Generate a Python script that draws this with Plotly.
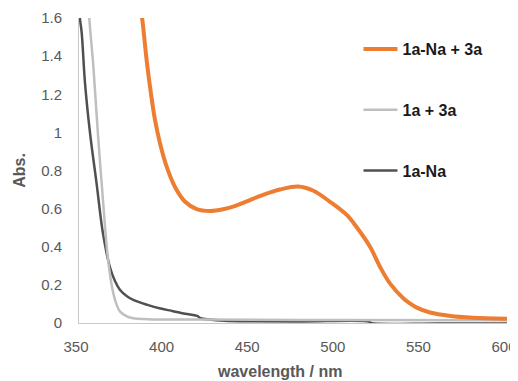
import plotly.graph_objects as go

# 1a-Na + 3a (orange)
wl_na3a = [384, 387, 389.5, 392, 394.4, 397.3, 401.2, 406, 412, 418.7, 426.5, 434.3, 441, 448, 457.6, 467.4, 478, 486.9, 496.6, 506.4, 512, 520, 525.8, 531.6, 539.4, 543.3, 547, 555, 567, 580, 600]
abs_na3a = [1.78, 1.59, 1.38, 1.205, 1.065, 0.943, 0.82, 0.715, 0.636, 0.598, 0.588, 0.597, 0.613, 0.638, 0.672, 0.70, 0.716, 0.694, 0.636, 0.567, 0.505, 0.40, 0.295, 0.208, 0.13, 0.103, 0.082, 0.055, 0.037, 0.028, 0.022]

# 1a + 3a (light gray)
wl_1a3a = [354, 356, 358.4, 361, 364, 367, 370, 372, 374, 378, 381.6, 390, 420, 500, 600]
abs_1a3a = [1.9, 1.6, 1.345, 1.0, 0.645, 0.33, 0.157, 0.095, 0.06, 0.035, 0.025, 0.02, 0.018, 0.016, 0.015]

# 1a-Na (dark gray)
wl_na = [349, 350.5, 351.6, 353.5, 356.4, 360.3, 364, 368, 371, 374, 378, 382, 390, 397, 405, 412, 419, 421, 426, 435, 450, 480, 519.5, 520.5, 560, 600]
abs_na = [1.75, 1.6, 1.52, 1.26, 1.0, 0.73, 0.47, 0.295, 0.22, 0.173, 0.14, 0.12, 0.095, 0.077, 0.062, 0.048, 0.037, 0.025, 0.018, 0.012, 0.009, 0.008, 0.007, 0.0, -0.002, -0.002]

y_ticks = [0, 0.2, 0.4, 0.6, 0.8, 1, 1.2, 1.4, 1.6]
y_tick_labels = ["0", "0.2", "0.4", "0.6", "0.8", "1", "1.2", "1.4", "1.6"]
x_ticks = [350, 400, 450, 500, 550, 600]
x_tick_labels = ["350", "400", "450", "500", "550", "600"]
x_title = "wavelength / nm"
y_title = "Abs."

fig = go.Figure()
fig.add_trace(go.Scatter(x=wl_na, y=abs_na, mode="lines", name="<b>1a-Na</b>",
                         line=dict(color="#505050", width=2.5, shape="spline", smoothing=1.0),
                         legendgroup="c", legendrank=3))
fig.add_trace(go.Scatter(x=wl_1a3a, y=abs_1a3a, mode="lines", name="<b>1a + 3a</b>",
                         line=dict(color="#bfbfbf", width=2.5, shape="spline", smoothing=1.0),
                         legendgroup="b", legendrank=2))
fig.add_trace(go.Scatter(x=wl_na3a, y=abs_na3a, mode="lines", name="<b>1a-Na + 3a</b>",
                         line=dict(color="#ed7d31", width=4, shape="spline", smoothing=1.0),
                         legendgroup="a", legendrank=1))

# page body adds an 8px offset, so the figure is sized to fit the window
fig.update_layout(
    width=510, height=373,
    margin=dict(l=71, r=11, t=10, b=58, autoexpand=False),
    paper_bgcolor="white", plot_bgcolor="white",
    font=dict(family="Liberation Sans, Arial, sans-serif", size=15, color="#595959"),
    showlegend=True,
    legend=dict(x=0.653, y=0.954, xanchor="left", yanchor="top",
                bgcolor="rgba(0,0,0,0)", tracegroupgap=37,
                font=dict(size=16, color="#1a1a1a", family="Liberation Sans, Arial, sans-serif"),
                itemwidth=34),
    xaxis=dict(range=[350, 600], tickvals=x_ticks, ticktext=x_tick_labels, showgrid=False, zeroline=False,
               showline=True, linecolor="#c8c8c8", linewidth=1, ticks="", automargin=False,
               ticklabelstandoff=10, ticklabelshift=-3, ticklabeloverflow="allow",
               tickfont=dict(size=15, color="#595959")),
    yaxis=dict(range=[0, 1.6], tickvals=y_ticks, ticktext=y_tick_labels, showgrid=False, zeroline=False,
               showline=True, linecolor="#c8c8c8", linewidth=1, ticks="", automargin=False,
               ticklabelstandoff=13, ticklabeloverflow="allow",
               tickfont=dict(size=15, color="#595959"),
               title=dict(text="<b>" + y_title + "</b>", font=dict(size=16, color="#595959"), standoff=11)),
    annotations=[dict(text="<b>" + x_title + "</b>", xref="paper", yref="paper",
                      x=200 / 428, y=0, xanchor="center", yanchor="middle", yshift=-48,
                      showarrow=False, font=dict(size=16, color="#595959"))],
)

fig.write_html("out.html")
